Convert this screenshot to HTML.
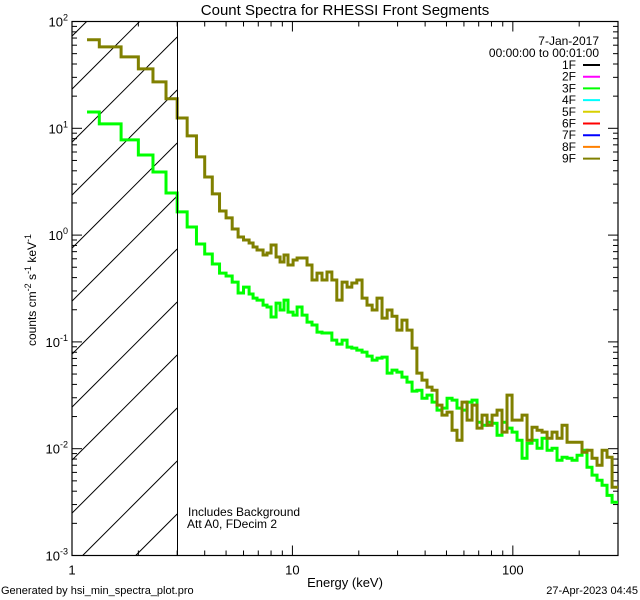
<!DOCTYPE html>
<html><head><meta charset="utf-8"><style>
html,body{margin:0;padding:0;background:#fff;width:640px;height:600px;overflow:hidden;}
svg{display:block;}
svg text{font-family:"Liberation Sans",sans-serif;fill:#000;}
</style></head><body>
<svg id="chart" width="640" height="600" viewBox="0 0 640 600" xmlns="http://www.w3.org/2000/svg">
<rect width="640" height="600" fill="#fff"/>
<text x="345" y="15" font-size="15" text-anchor="middle">Count Spectra for RHESSI Front Segments</text>
<g id="hatch"></g>
<g id="axes"></g>
<g id="series"></g>
<line x1="177.5" y1="21" x2="177.5" y2="556" stroke="#000" stroke-width="1"/>
<g font-size="12">
<text x="599" y="45" text-anchor="end">7-Jan-2017</text>
<text x="599" y="57" text-anchor="end">00:00:00 to 00:01:00</text>
</g>
<g id="legend-entries"></g>
<text x="188" y="516" font-size="12">Includes Background</text>
<text x="187" y="528" font-size="12">Att A0, FDecim 2</text>
<text x="345" y="587" font-size="13" text-anchor="middle">Energy (keV)</text>
<text transform="translate(36,290) rotate(-90)" font-size="12" text-anchor="middle">counts cm<tspan dy="-5" font-size="9">-2</tspan><tspan dy="5"> s</tspan><tspan dy="-5" font-size="9">-1</tspan><tspan dy="5"> keV</tspan><tspan dy="-5" font-size="9">-1</tspan></text>
<text x="1" y="594" font-size="11">Generated by hsi_min_spectra_plot.pro</text>
<text x="638" y="594" font-size="11" text-anchor="end">27-Apr-2023 04:45</text>
</svg>
<script>
const energyEdges=[1.17,1.33,1.67,2,2.33,2.67,3,3.33,3.67,4,4.33,4.67,5,5.33,5.67,6,6.36,6.63,6.91,7.36,7.67,8.0,8.43,8.79,9.16,9.55,10.07,10.5,11.06,11.65,12.27,12.93,13.62,14.35,15.1,15.9,16.8,17.7,18.6,19.6,20.7,21.8,23.0,24.2,25.5,26.9,28.3,29.8,31.4,33.1,34.9,36.7,38.7,40.8,43.0,45.3,47.7,50.3,53.0,55.8,58.8,62.0,65.3,68.8,72.5,76.4,80.5,84.8,89.3,94.1,99.2,104.5,110.1,116,122.2,128.8,135.7,143,150.6,158.7,167.2,176.2,185.6,195.6,206,217,228.7,241,254,267.5,282,300];
const counts9F=[67.4,57.9,46.7,36.0,27.2,18.9,12.5,8.49,5.40,3.50,2.43,1.68,1.45,1.14,0.960,0.900,0.843,0.774,0.725,0.651,0.680,0.808,0.623,0.560,0.651,0.525,0.584,0.610,0.610,0.525,0.380,0.441,0.380,0.451,0.380,0.246,0.363,0.326,0.356,0.380,0.257,0.221,0.199,0.257,0.167,0.199,0.174,0.129,0.160,0.129,0.0875,0.0510,0.0439,0.0377,0.0353,0.0256,0.0206,0.0220,0.0149,0.0120,0.0273,0.0185,0.0256,0.0156,0.0206,0.0166,0.0206,0.0230,0.0143,0.0317,0.0185,0.0185,0.0206,0.0120,0.0159,0.0149,0.0143,0.01254,0.0143,0.01254,0.0166,0.0115,0.0115,0.0115,0.00927,0.00968,0.00815,0.0070,0.00968,0.00832,0.00436];
const counts3F=[14.2,11.0,7.79,5.63,3.90,2.48,1.65,1.19,0.825,0.665,0.536,0.441,0.414,0.363,0.287,0.326,0.281,0.257,0.246,0.221,0.212,0.171,0.231,0.199,0.246,0.190,0.178,0.212,0.178,0.153,0.144,0.1236,0.121,0.121,0.104,0.0954,0.104,0.0894,0.0875,0.0838,0.0802,0.0736,0.0675,0.0705,0.0720,0.0510,0.0544,0.0521,0.0468,0.0420,0.0346,0.0353,0.0297,0.0317,0.0273,0.0230,0.0240,0.0297,0.0285,0.0240,0.0230,0.0273,0.0285,0.0177,0.0166,0.0177,0.0173,0.01338,0.0177,0.0156,0.0143,0.0120,0.00815,0.01126,0.0120,0.0101,0.01254,0.00968,0.0101,0.0078,0.00832,0.00815,0.0078,0.00869,0.00968,0.00671,0.00565,0.00507,0.00455,0.00366,0.00315];
const xTickLabels=["1","10","100"];
const yTickExps=["2","1","0","-1","-2","-3"];
const legendLabels=["1F","2F","3F","4F","5F","6F","7F","8F","9F"];
const legendColors=["#000000","#ff00ff","#00ff00","#00ffff","#d8d000","#ff0000","#0000ff","#ff8000","#808000"];

const NS="http://www.w3.org/2000/svg";
const L=72,R=618,T=21.5,B=555.5;
const xMin=1,xMax=300,yMin=-3,yMax=2;
function xs(e){return L+(Math.log10(e)-Math.log10(xMin))/(Math.log10(xMax)-Math.log10(xMin))*(R-L);}
function ys(v){return B-(Math.log10(v)-yMin)/(yMax-yMin)*(B-T);}
function mk(tag,attrs,parent){const el=document.createElementNS(NS,tag);for(const k in attrs)el.setAttribute(k,attrs[k]);parent.appendChild(el);return el;}

const hatch=document.getElementById('hatch');
const HX=xs(3);
for(let k=-12;k<12;k++){
  const y0=37+53*k;
  // line: y = y0 + (HX - x)
  let xa=L, ya=y0+(HX-L);
  let xb=HX, yb=y0;
  if(ya>B){ya=B; xa=HX-(B-y0);}
  if(yb<T){yb=T; xb=HX-(T-y0);}
  if(xa>=xb) continue;
  const ln=mk('line',{x1:xa,y1:ya,x2:xb,y2:yb,stroke:'#000','stroke-width':1},hatch);
  
  
}

const ax=document.getElementById('axes');
const box=mk('rect',{x:L,y:T,width:R-L,height:B-T,fill:'none',stroke:'#000','stroke-width':1.2},ax);


for(let d=0;d<3;d++){
  for(let m=1;m<10;m++){
    const e=Math.pow(10,d)*m; if(e>xMax)break;
    const x=xs(e),len=m===1?10:5;
    const t1=mk('line',{x1:x,y1:B,x2:x,y2:B-len,stroke:'#000'},ax);
    
    
    mk('line',{x1:x,y1:T,x2:x,y2:T+len,stroke:'#000'},ax);
  }
}
xTickLabels.forEach((lab,i)=>{
  const t=mk('text',{x:xs(Math.pow(10,i)),y:B+19,'font-size':13,'text-anchor':'middle'},ax);
  t.textContent=lab;
  
  
});
for(let d=yMin;d<yMax;d++){
  for(let m=1;m<10;m++){
    const v=Math.pow(10,d)*m,y=ys(v),len=m===1?10:5;
    mk('line',{x1:L,y1:y,x2:L+len,y2:y,stroke:'#000'},ax);
    mk('line',{x1:R,y1:y,x2:R-len,y2:y,stroke:'#000'},ax);
  }
}
mk('line',{x1:L,y1:T,x2:L+10,y2:T,stroke:'#000'},ax);
mk('line',{x1:R,y1:T,x2:R-10,y2:T,stroke:'#000'},ax);
yTickExps.forEach(ex=>{
  const t=mk('text',{x:L-4,y:ys(Math.pow(10,+ex))+5,'font-size':13,'text-anchor':'end'},ax);
  
  
  const a=mk('tspan',{},t);a.textContent='10';
  const b=mk('tspan',{dy:-6,'font-size':9},t);b.textContent=ex;
});

const sg=document.getElementById('series');
function stepPath(vals){
  let d='M'+xs(energyEdges[0])+' '+ys(vals[0]);
  for(let i=0;i<vals.length;i++){
    d+=' L'+xs(energyEdges[i])+' '+ys(vals[i])+' L'+xs(energyEdges[i+1])+' '+ys(vals[i]);
  }
  return d;
}
const p3=mk('path',{d:stepPath(counts3F),fill:'none',stroke:'#00ff00','stroke-width':3,'stroke-linejoin':'miter'},sg);


const p9=mk('path',{d:stepPath(counts9F),fill:'none',stroke:'#808000','stroke-width':3,'stroke-linejoin':'miter'},sg);



const lg=document.getElementById('legend-entries');
legendLabels.forEach((lab,i)=>{
  const y=65+11.7*i;
  const t=mk('text',{x:576,y:y+4,'font-size':12,'text-anchor':'end'},lg);
  t.textContent=lab;
  
  
  const l=mk('line',{x1:583,y1:y,x2:600,y2:y,stroke:legendColors[i],'stroke-width':2},lg);
  
  
});
</script>
</body></html>
